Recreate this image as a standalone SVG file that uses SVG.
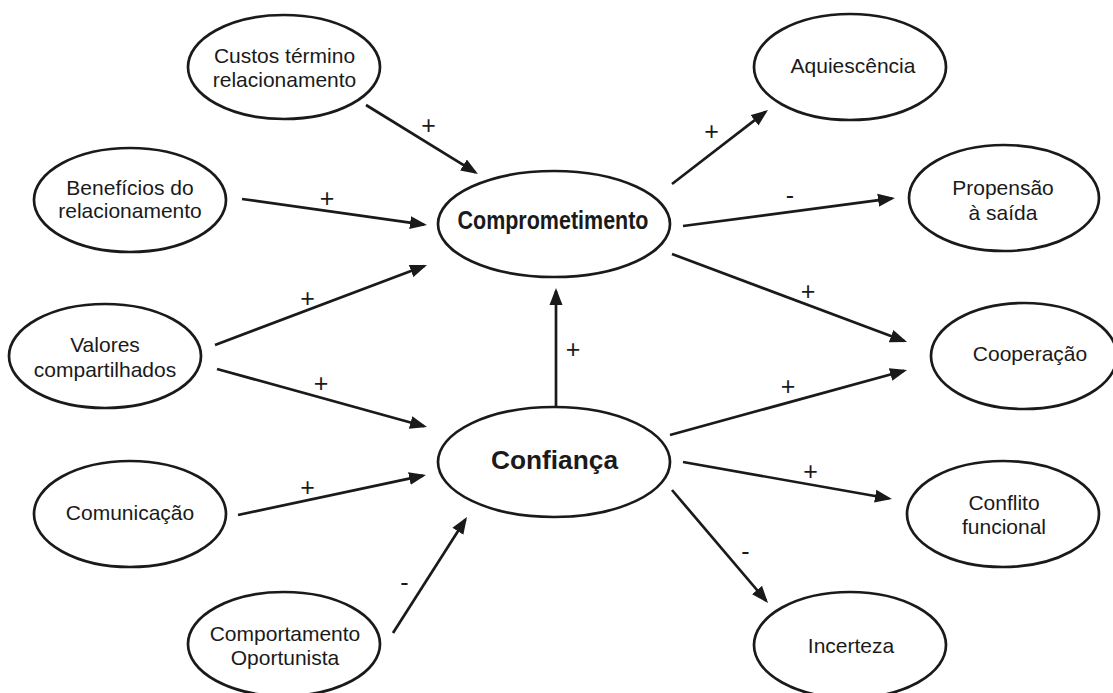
<svg xmlns="http://www.w3.org/2000/svg" width="1113" height="693" viewBox="0 0 1113 693">
  <style>
    .node ellipse { fill: #ffffff; stroke: #1a1a1a; stroke-width: 2.7; }
    .node text { font-family: "Liberation Sans", Arial, sans-serif; font-size: 21px; fill: #1a1a1a; text-anchor: middle; }
    .node text.core { font-weight: bold; font-size: 25px; }
    #connectors line { stroke: #1a1a1a; stroke-width: 2.7; fill: none; marker-end: url(#arrow); }
    #connectors text { font-family: "Liberation Sans", Arial, sans-serif; font-size: 25px; fill: #1a1a1a; text-anchor: middle; }
  </style>
  <defs>
    <marker id="arrow" markerUnits="userSpaceOnUse" markerWidth="18" markerHeight="14" viewBox="0 0 18 14" refX="14" refY="7" orient="auto">
      <path d="M0,0.5 L17,7 L0,13.5 z" fill="#1a1a1a"/>
    </marker>
  </defs>
  <rect width="1113" height="693" fill="#ffffff"/>

  <!-- arrows with their sign labels -->
  <g id="connectors">
    <line x1="366" y1="105" x2="475.4" y2="172.4"/>
    <text x="428.5" y="133.5">+</text>
    <line x1="242" y1="199" x2="424" y2="224.6"/>
    <text x="327" y="206.5">+</text>
    <line x1="215" y1="345" x2="424.2" y2="266.1"/>
    <text x="307.5" y="306.5">+</text>
    <line x1="217" y1="369" x2="424.1" y2="426.2"/>
    <text x="321" y="391.5">+</text>
    <line x1="238" y1="515" x2="423.1" y2="475.6"/>
    <text x="307.5" y="496">+</text>
    <line x1="393" y1="633" x2="465.4" y2="519.5"/>
    <text x="404.5" y="591">-</text>
    <line x1="556" y1="406" x2="556" y2="291"/>
    <text x="573" y="357.5">+</text>
    <line x1="672" y1="184" x2="765.6" y2="111.8"/>
    <text x="711.5" y="140">+</text>
    <line x1="683" y1="226" x2="892" y2="198.4"/>
    <text x="790" y="204">-</text>
    <line x1="672" y1="254" x2="904.2" y2="341"/>
    <text x="808" y="300">+</text>
    <line x1="670" y1="435" x2="904.1" y2="370.8"/>
    <text x="788" y="395">+</text>
    <line x1="683" y1="462" x2="889" y2="498.5"/>
    <text x="810.5" y="479.5">+</text>
    <line x1="672" y1="490" x2="766.1" y2="600.7"/>
    <text x="745.5" y="560">-</text>
  </g>

  <g id="custos" class="node">
    <ellipse cx="284" cy="67" rx="96" ry="52"/>
    <text x="284.5" y="63">Custos término</text>
    <text x="284.5" y="87">relacionamento</text>
  </g>
  <g id="beneficios" class="node">
    <ellipse cx="130" cy="200" rx="96" ry="52"/>
    <text x="130" y="195">Benefícios do</text>
    <text x="130" y="218">relacionamento</text>
  </g>
  <g id="valores" class="node">
    <ellipse cx="105" cy="356" rx="96" ry="52"/>
    <text x="105" y="352">Valores</text>
    <text x="105" y="377">compartilhados</text>
  </g>
  <g id="comunicacao" class="node">
    <ellipse cx="130" cy="514" rx="96" ry="53"/>
    <text x="130" y="520">Comunicação</text>
  </g>
  <g id="comportamento" class="node">
    <ellipse cx="284" cy="644" rx="96" ry="52"/>
    <text x="285" y="641">Comportamento</text>
    <text x="285" y="665">Oportunista</text>
  </g>
  <g id="comprometimento" class="node">
    <ellipse cx="554" cy="224" rx="116" ry="53"/>
    <text class="core" x="553" y="229" textLength="191" lengthAdjust="spacingAndGlyphs">Comprometimento</text>
  </g>
  <g id="confianca" class="node">
    <ellipse cx="554" cy="462" rx="116" ry="55"/>
    <text class="core" x="554.5" y="469" textLength="127" lengthAdjust="spacingAndGlyphs">Confiança</text>
  </g>
  <g id="aquiescencia" class="node">
    <ellipse cx="850" cy="67" rx="96" ry="53"/>
    <text x="853" y="73">Aquiescência</text>
  </g>
  <g id="propensao" class="node">
    <ellipse cx="1004" cy="198" rx="95" ry="53"/>
    <text x="1003" y="195">Propensão</text>
    <text x="1003" y="220">à saída</text>
  </g>
  <g id="cooperacao" class="node">
    <ellipse cx="1024" cy="356" rx="93" ry="53"/>
    <text x="1030" y="361">Cooperação</text>
  </g>
  <g id="conflito" class="node">
    <ellipse cx="1003" cy="514" rx="96" ry="53"/>
    <text x="1004" y="510">Conflito</text>
    <text x="1004" y="534">funcional</text>
  </g>
  <g id="incerteza" class="node">
    <ellipse cx="850" cy="645" rx="96" ry="53"/>
    <text x="851" y="653">Incerteza</text>
  </g>
</svg>
